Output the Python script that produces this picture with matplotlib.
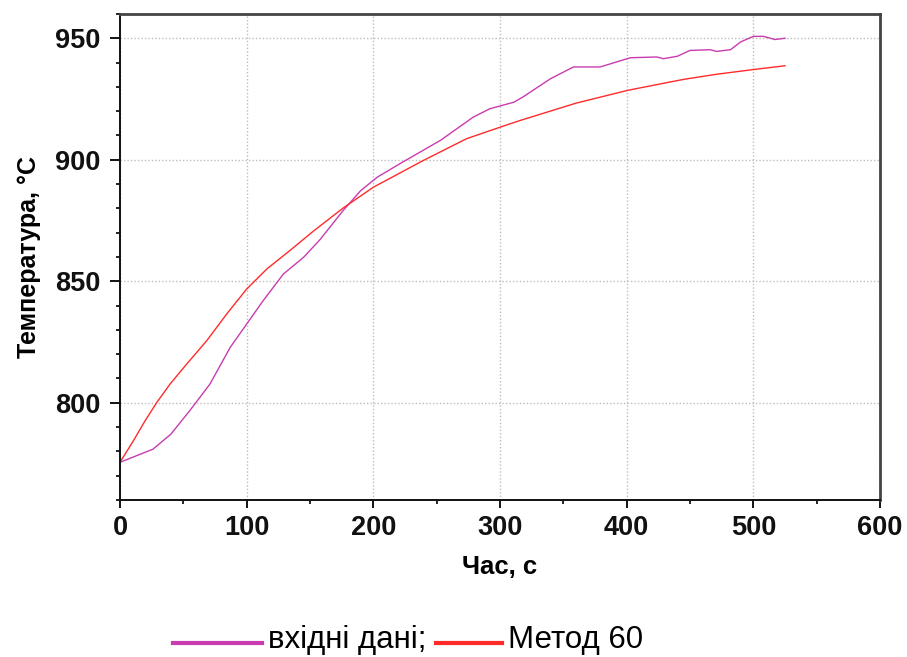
import numpy as np
import matplotlib
matplotlib.use('Agg')
import matplotlib.pyplot as plt
from matplotlib.lines import Line2D
from matplotlib.ticker import MultipleLocator

matplotlib.rcParams['font.family'] = ['Liberation Sans', 'DejaVu Sans']

# input data (вхідні дані)
t_in = [0, 26, 40, 55, 71, 87, 100, 113, 129, 145, 158, 176, 190, 203, 221, 253,
        279, 292, 311, 318, 340, 358, 379, 403, 424, 429, 440, 450, 466,
        471, 482, 490, 500, 508, 517, 525]
T_in = [775.5, 780.9, 787, 796.7, 807.7, 822.8, 832.4, 842, 853, 859.9, 867.2, 879,
        887.3, 892.8, 898.4, 908, 917.6, 921, 923.7, 925.8, 933.4, 938.2, 938.2,
        942, 942.3, 941.6, 942.6, 945, 945.3, 944.6, 945.3, 948.5, 950.8, 950.8,
        949.5, 950]

# method 60
t_m = [0, 10.5, 19.7, 29, 39.5, 52.6, 68.4, 84.2, 100, 116, 134, 152.6, 168.4,
       176.3, 200, 239.4, 273.7, 300, 316, 360, 401, 445, 471, 501, 525]
T_m = [775.5, 784.3, 792.5, 800.1, 807.7, 815.9, 825.5, 836.5, 846.8, 855.1, 862.6,
       870.6, 877, 880.2, 888.7, 899.7, 908.7, 913.4, 916.2, 923.3, 928.6, 933.1,
       935.2, 937.2, 938.7]

c_in = '#c83cb0'
c_m = '#ff2a2a'

fig = plt.figure(figsize=(9.07, 6.57), dpi=100)
ax = fig.add_axes([0.1323, 0.239, 0.8379, 0.7397])

ax.plot(t_in, T_in, color=c_in, lw=1.0)
ax.plot(t_m, T_m, color=c_m, lw=1.0)

ax.set_xlim(0, 600)
ax.set_ylim(760, 960)
ax.xaxis.set_major_locator(MultipleLocator(100))
ax.xaxis.set_minor_locator(MultipleLocator(50))
ax.yaxis.set_major_locator(MultipleLocator(50))
ax.yaxis.set_minor_locator(MultipleLocator(10))
ax.tick_params(which='major', length=6, width=1.3, labelsize=19.5, pad=5)
ax.tick_params(which='minor', length=3, width=1.2)
ax.tick_params(axis='y', which='major', length=7, pad=7)
for lab in ax.get_xticklabels() + ax.get_yticklabels():
    lab.set_fontweight('bold')
    lab.set_color('#111111')

ax.grid(True, which='major', color='#bdbdbd', lw=1.0, linestyle=(0, (1, 1.5)))
for s in ['left', 'bottom']:
    ax.spines[s].set_linewidth(1.4)
    ax.spines[s].set_color('#111111')
for s in ['top', 'right']:
    ax.spines[s].set_linewidth(2)
    ax.spines[s].set_color('#444444')

ax.set_xlabel('Час, с', fontsize=18.5, fontweight='bold', labelpad=10)
ax.set_ylabel('Температура, °С', fontsize=18, fontweight='bold', labelpad=10)

# legend drawn under the axes
H = 657.0
W = 907.0
fig.add_artist(Line2D([173 / W, 262 / W], [1 - 643 / H, 1 - 643 / H], color=c_in, lw=3))
fig.text(268 / W, 1 - 648 / H, 'вхідні дані;', fontsize=22.5, va='baseline', ha='left')
fig.add_artist(Line2D([436 / W, 502 / W], [1 - 643 / H, 1 - 643 / H], color=c_m, lw=3))
fig.text(508 / W, 1 - 648 / H, 'Метод 60', fontsize=22.5, va='baseline', ha='left')

fig.savefig('out.png', dpi=100)
